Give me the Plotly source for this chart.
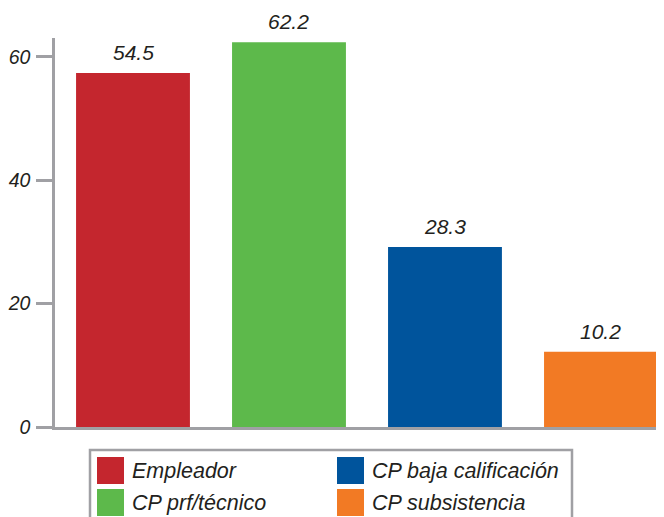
import plotly.graph_objects as go

categories = ["Empleador", "CP prf/técnico", "CP baja calificación", "CP subsistencia"]
bar_values = [57.4, 62.4, 29.2, 12.2]
value_labels = ["54.5", "62.2", "28.3", "10.2"]
colors = ["#C4262E", "#5DB94B", "#00549C", "#F27A24"]
y_ticks = [0, 20, 40, 60]

FONT = "Liberation Sans, Arial, sans-serif"
AXIS_GRAY = "#A0A0A4"
TEXT = "#231F20"

# page body margin offset (browser default 8px)
OFF = 8
W, H = 664 - OFF, 517 - OFF
L, R, T = 55 - OFF, 0, 38 - OFF
B = H - (427 - OFF)
pw, ph = W - L - R, H - T - B

x_pos = list(range(len(categories)))

fig = go.Figure()
fig.add_trace(go.Bar(
    x=x_pos, y=bar_values, width=0.73,
    marker=dict(color=colors, line=dict(width=0)),
    hoverinfo="skip", showlegend=False,
))

for xi, v, lab in zip(x_pos, bar_values, value_labels):
    fig.add_annotation(
        x=xi, y=v, text=f"<i>{lab}</i>", showarrow=False,
        xanchor="center", yanchor="bottom", yshift=7,
        font=dict(family=FONT, size=21, color=TEXT),
    )

def px_to_paper(x, y):
    # x, y given in window pixels
    x -= OFF
    y -= OFF
    return (x - L) / pw, (H - B - y) / ph

x0, y0 = px_to_paper(90, 450)
x1, y1 = px_to_paper(572, 540)
fig.add_shape(type="rect", xref="paper", yref="paper", x0=x0, y0=y1, x1=x1, y1=y0,
              line=dict(color=AXIS_GRAY, width=2.5), fillcolor="rgba(0,0,0,0)")

legend_pos = [(97, 457), (337, 457), (97, 489), (337, 489)]
order = [0, 2, 1, 3]
for (lx, ly), idx in zip(legend_pos, order):
    ax0, ay0 = px_to_paper(lx, ly)
    ax1, ay1 = px_to_paper(lx + 27, ly + 27)
    fig.add_shape(type="rect", xref="paper", yref="paper", x0=ax0, y0=ay1, x1=ax1, y1=ay0,
                  line=dict(width=0), fillcolor=colors[idx])
    tx, ty = px_to_paper(lx + 33, ly + 13.5)
    fig.add_annotation(xref="paper", yref="paper", x=tx, y=ty, text=f"<i>{categories[idx]}</i>",
                       showarrow=False, xanchor="left", yanchor="middle",
                       font=dict(family=FONT, size=21.5, color=TEXT))

fig.update_layout(
    width=W, height=H,
    margin=dict(l=L, r=R, t=T, b=B, pad=0, autoexpand=False),
    paper_bgcolor="white", plot_bgcolor="white",
    font=dict(family=FONT, color=TEXT),
    xaxis=dict(range=[-0.5, 3.404], showticklabels=False, ticks="", showgrid=False,
               zeroline=False, showline=True, linecolor=AXIS_GRAY, linewidth=2.5,
               automargin=False),
    yaxis=dict(range=[0, 63.08], tickvals=y_ticks, ticktext=[f"<i>{t}</i>" for t in y_ticks],
               ticks="outside", ticklen=16, tickwidth=2.5, tickcolor=AXIS_GRAY,
               showgrid=False, zeroline=False, showline=True, linecolor=AXIS_GRAY, linewidth=2.5,
               tickfont=dict(family=FONT, size=19.5, color=TEXT), ticklabelstandoff=2,
               automargin=False),
)

fig.write_html("out.html")
